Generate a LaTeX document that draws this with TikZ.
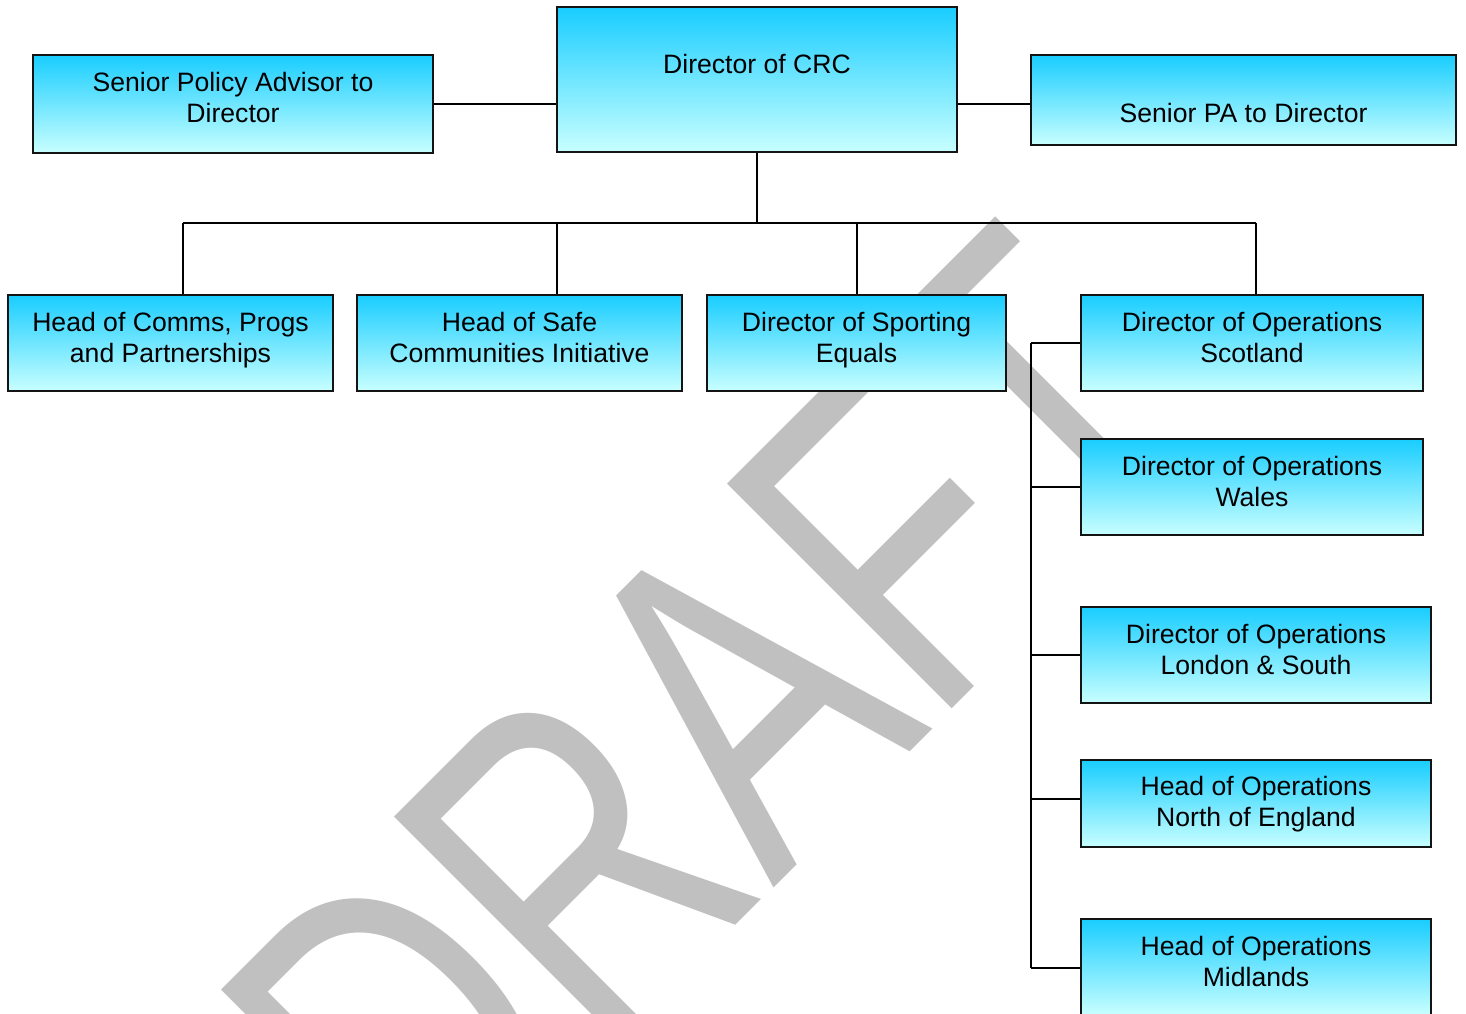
\documentclass[tikz,border=0pt]{standalone}
\usepackage{fontspec}
\setmainfont{Liberation Sans}
\usetikzlibrary{calc}
\definecolor{cTop}{RGB}{25,205,255}
\definecolor{cBot}{RGB}{200,255,255}
\definecolor{wmGray}{RGB}{192,192,192}
\definecolor{edgeCol}{RGB}{20,20,20}
\begin{document}
\begin{tikzpicture}[x=1pt,y=-1pt,
  box/.style={shape=rectangle, draw=edgeCol, line width=1.7pt, top color=cTop, bottom color=cBot, inner sep=0pt},
  lbl/.style={font=\fontsize{26.6}{31}\selectfont, align=center, inner sep=0pt, anchor=north, text=black},
  conn/.style={line width=1.7pt, draw=black},
  wm/.style={font=\fontsize{462}{462}\selectfont, text=wmGray, inner sep=0pt, transform shape}
]
\useasboundingbox (0,0) rectangle (1466,1013);
\clip (0,0) rectangle (1466,1013);
\fill[white] (0,0) rectangle (1466,1013);

% watermark
\begin{scope}[shift={(714,723)}, rotate=45, xscale=0.734]
  \node[wm] (wmark) at (0,0) {DRAFT};
\end{scope}

% boxes
\node[box, minimum width=400pt, minimum height=145pt] (crc)   at (757,79.5) {};
\node[box, minimum width=400pt, minimum height=98pt]  (spa)   at (233,104) {};
\node[box, minimum width=425pt, minimum height=90pt]  (pa)    at (1243.5,100) {};
\node[box, minimum width=325pt, minimum height=96pt]  (comms) at (170.5,343) {};
\node[box, minimum width=325pt, minimum height=96pt]  (safe)  at (519.5,343) {};
\node[box, minimum width=299pt, minimum height=96pt]  (sport) at (856.5,343) {};
\node[box, minimum width=342pt, minimum height=96pt]  (scot)  at (1252,343) {};
\node[box, minimum width=342pt, minimum height=96pt]  (wales) at (1252,487) {};
\node[box, minimum width=350pt, minimum height=96pt]  (lond)  at (1256,655) {};
\node[box, minimum width=350pt, minimum height=87pt]  (north) at (1256,803.5) {};
\node[box, minimum width=350pt, minimum height=96pt]  (mid)   at (1256,967) {};

% connectors
\draw[conn] (spa.east) -- (spa.east -| crc.west);
\draw[conn] (crc.east |- spa.east) -- (pa.west |- spa.east);
\coordinate (busL) at (183,223);
\coordinate (busR) at (1256,223);
\coordinate (dSafe) at (557,223);
\coordinate (dSport) at (857,223);
\draw[conn] (crc.south) -- (crc.south |- busL);
\draw[conn] (busL) -- (busR);
\draw[conn] (busL) -- (busL |- comms.north);
\draw[conn] (dSafe) -- (dSafe |- safe.north);
\draw[conn] (dSport) -- (dSport |- sport.north);
\draw[conn] (busR) -- (busR |- scot.north);
\coordinate (spTop) at (1031,343);
\coordinate (spBot) at (1031,968);
\coordinate (nY) at (1031,799);
\draw[conn] (spTop) -- (spBot);
\draw[conn] (spTop) -- (scot.west);
\draw[conn] (spTop |- wales.west) -- (wales.west);
\draw[conn] (spTop |- lond.west) -- (lond.west);
\draw[conn] (nY) -- (nY -| north.west);
\draw[conn] (spBot) -- (spBot -| mid.west);

% labels
\node[lbl] (crcT)   at ($(crc.north)+(0,14)$)   {\strut\\Director of CRC};
\node[lbl] (spaT)   at ($(spa.north)+(0,15)$)   {\strut Senior Policy Advisor to\\Director};
\node[lbl] (paT)    at ($(pa.north)+(0,15)$)    {\strut\\Senior PA to Director};
\node[lbl] (commsT) at ($(comms.north)+(0,15)$) {\strut Head of Comms, Progs\\and Partnerships};
\node[lbl] (safeT)  at ($(safe.north)+(0,15)$)  {\strut Head of Safe\\Communities Initiative};
\node[lbl] (sportT) at ($(sport.north)+(0,15)$) {\strut Director of Sporting\\Equals};
\node[lbl] (scotT)  at ($(scot.north)+(0,15)$)  {\strut Director of Operations\\Scotland};
\node[lbl] (walesT) at ($(wales.north)+(0,15)$) {\strut Director of Operations\\Wales};
\node[lbl] (londT)  at ($(lond.north)+(0,15)$)  {\strut Director of Operations\\London \& South};
\node[lbl] (northT) at ($(north.north)+(0,14)$) {\strut Head of Operations\\North of England};
\node[lbl] (midT)   at ($(mid.north)+(0,15)$)   {\strut Head of Operations\\Midlands};
\end{tikzpicture}
\end{document}
